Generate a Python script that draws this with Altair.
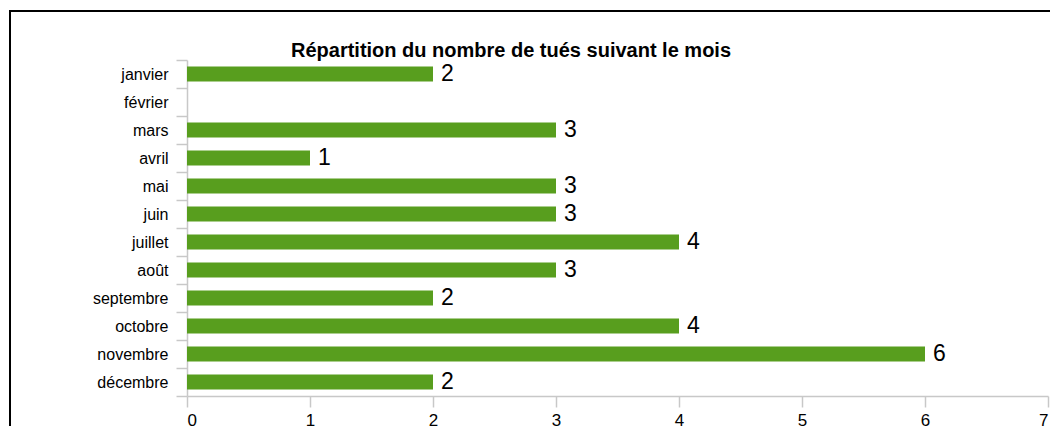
import altair as alt
import pandas as pd

months = ["janvier", "février", "mars", "avril", "mai", "juin", "juillet",
          "août", "septembre", "octobre", "novembre", "décembre"]
tues = [2, None, 3, 1, 3, 3, 4, 3, 2, 4, 6, 2]
x_ticks = [0, 1, 2, 3, 4, 5, 6, 7]
title_text = "Répartition du nombre de tués suivant le mois"

df = pd.DataFrame({"mois": months, "tues": tues})

FONT = "Liberation Sans"
GREEN = "#589E1E"
AXIS_GRAY = "#c8c8c8"

y_enc = alt.Y("mois:N", sort=months,
              scale=alt.Scale(paddingInner=0, paddingOuter=0),
              axis=alt.Axis(title=None, tickBand="extent", labelFontSize=16,
                            labelColor="#000000", labelFont=FONT, labelPadding=8,
                            tickSize=11, tickColor=AXIS_GRAY, domainColor=AXIS_GRAY,
                            domainWidth=1.5, tickWidth=1.5, grid=False))
x_enc = alt.X("tues:Q", scale=alt.Scale(domain=[0, 7], nice=False),
              axis=alt.Axis(title=None, values=x_ticks, labelFontSize=17,
                            labelColor="#000000", labelFont=FONT, labelPadding=5,
                            tickSize=11, tickColor=AXIS_GRAY, domainColor=AXIS_GRAY,
                            domainWidth=1.5, tickWidth=1.5, grid=False, format="d"))

bars = alt.Chart(df).mark_bar(size=15, color=GREEN).encode(x=x_enc, y=y_enc)
labels = alt.Chart(df).mark_text(align="left", baseline="middle", dx=8,
                                 fontSize=23, font=FONT, color="#000000").encode(
    x="tues:Q", y=alt.Y("mois:N", sort=months), text="tues:Q")

one = alt.Data(values=[{"t": title_text}])
frame_top = alt.Chart(one).mark_rule(color="#000000", strokeWidth=2).encode(
    x=alt.value(-178), x2=alt.value(900), y=alt.value(-49))
frame_left = alt.Chart(one).mark_rule(color="#000000", strokeWidth=2).encode(
    x=alt.value(-177), y=alt.value(-50), y2=alt.value(370))
title = alt.Chart(one).mark_text(align="center", baseline="alphabetic", fontSize=20,
                                 fontWeight="bold", font=FONT, color="#000000").encode(
    x=alt.value(324), y=alt.value(-3), text="t:N")

chart = alt.layer(frame_top, frame_left, title, bars, labels).properties(
    width=861, height=336,
    autosize=alt.AutoSizeParams(type="none"),
    padding={"left": 179, "top": 52, "right": 2, "bottom": 30},
).configure_view(strokeWidth=0, strokeOpacity=0)

chart.save("out.html", embed_options={"renderer": "svg", "actions": False})
